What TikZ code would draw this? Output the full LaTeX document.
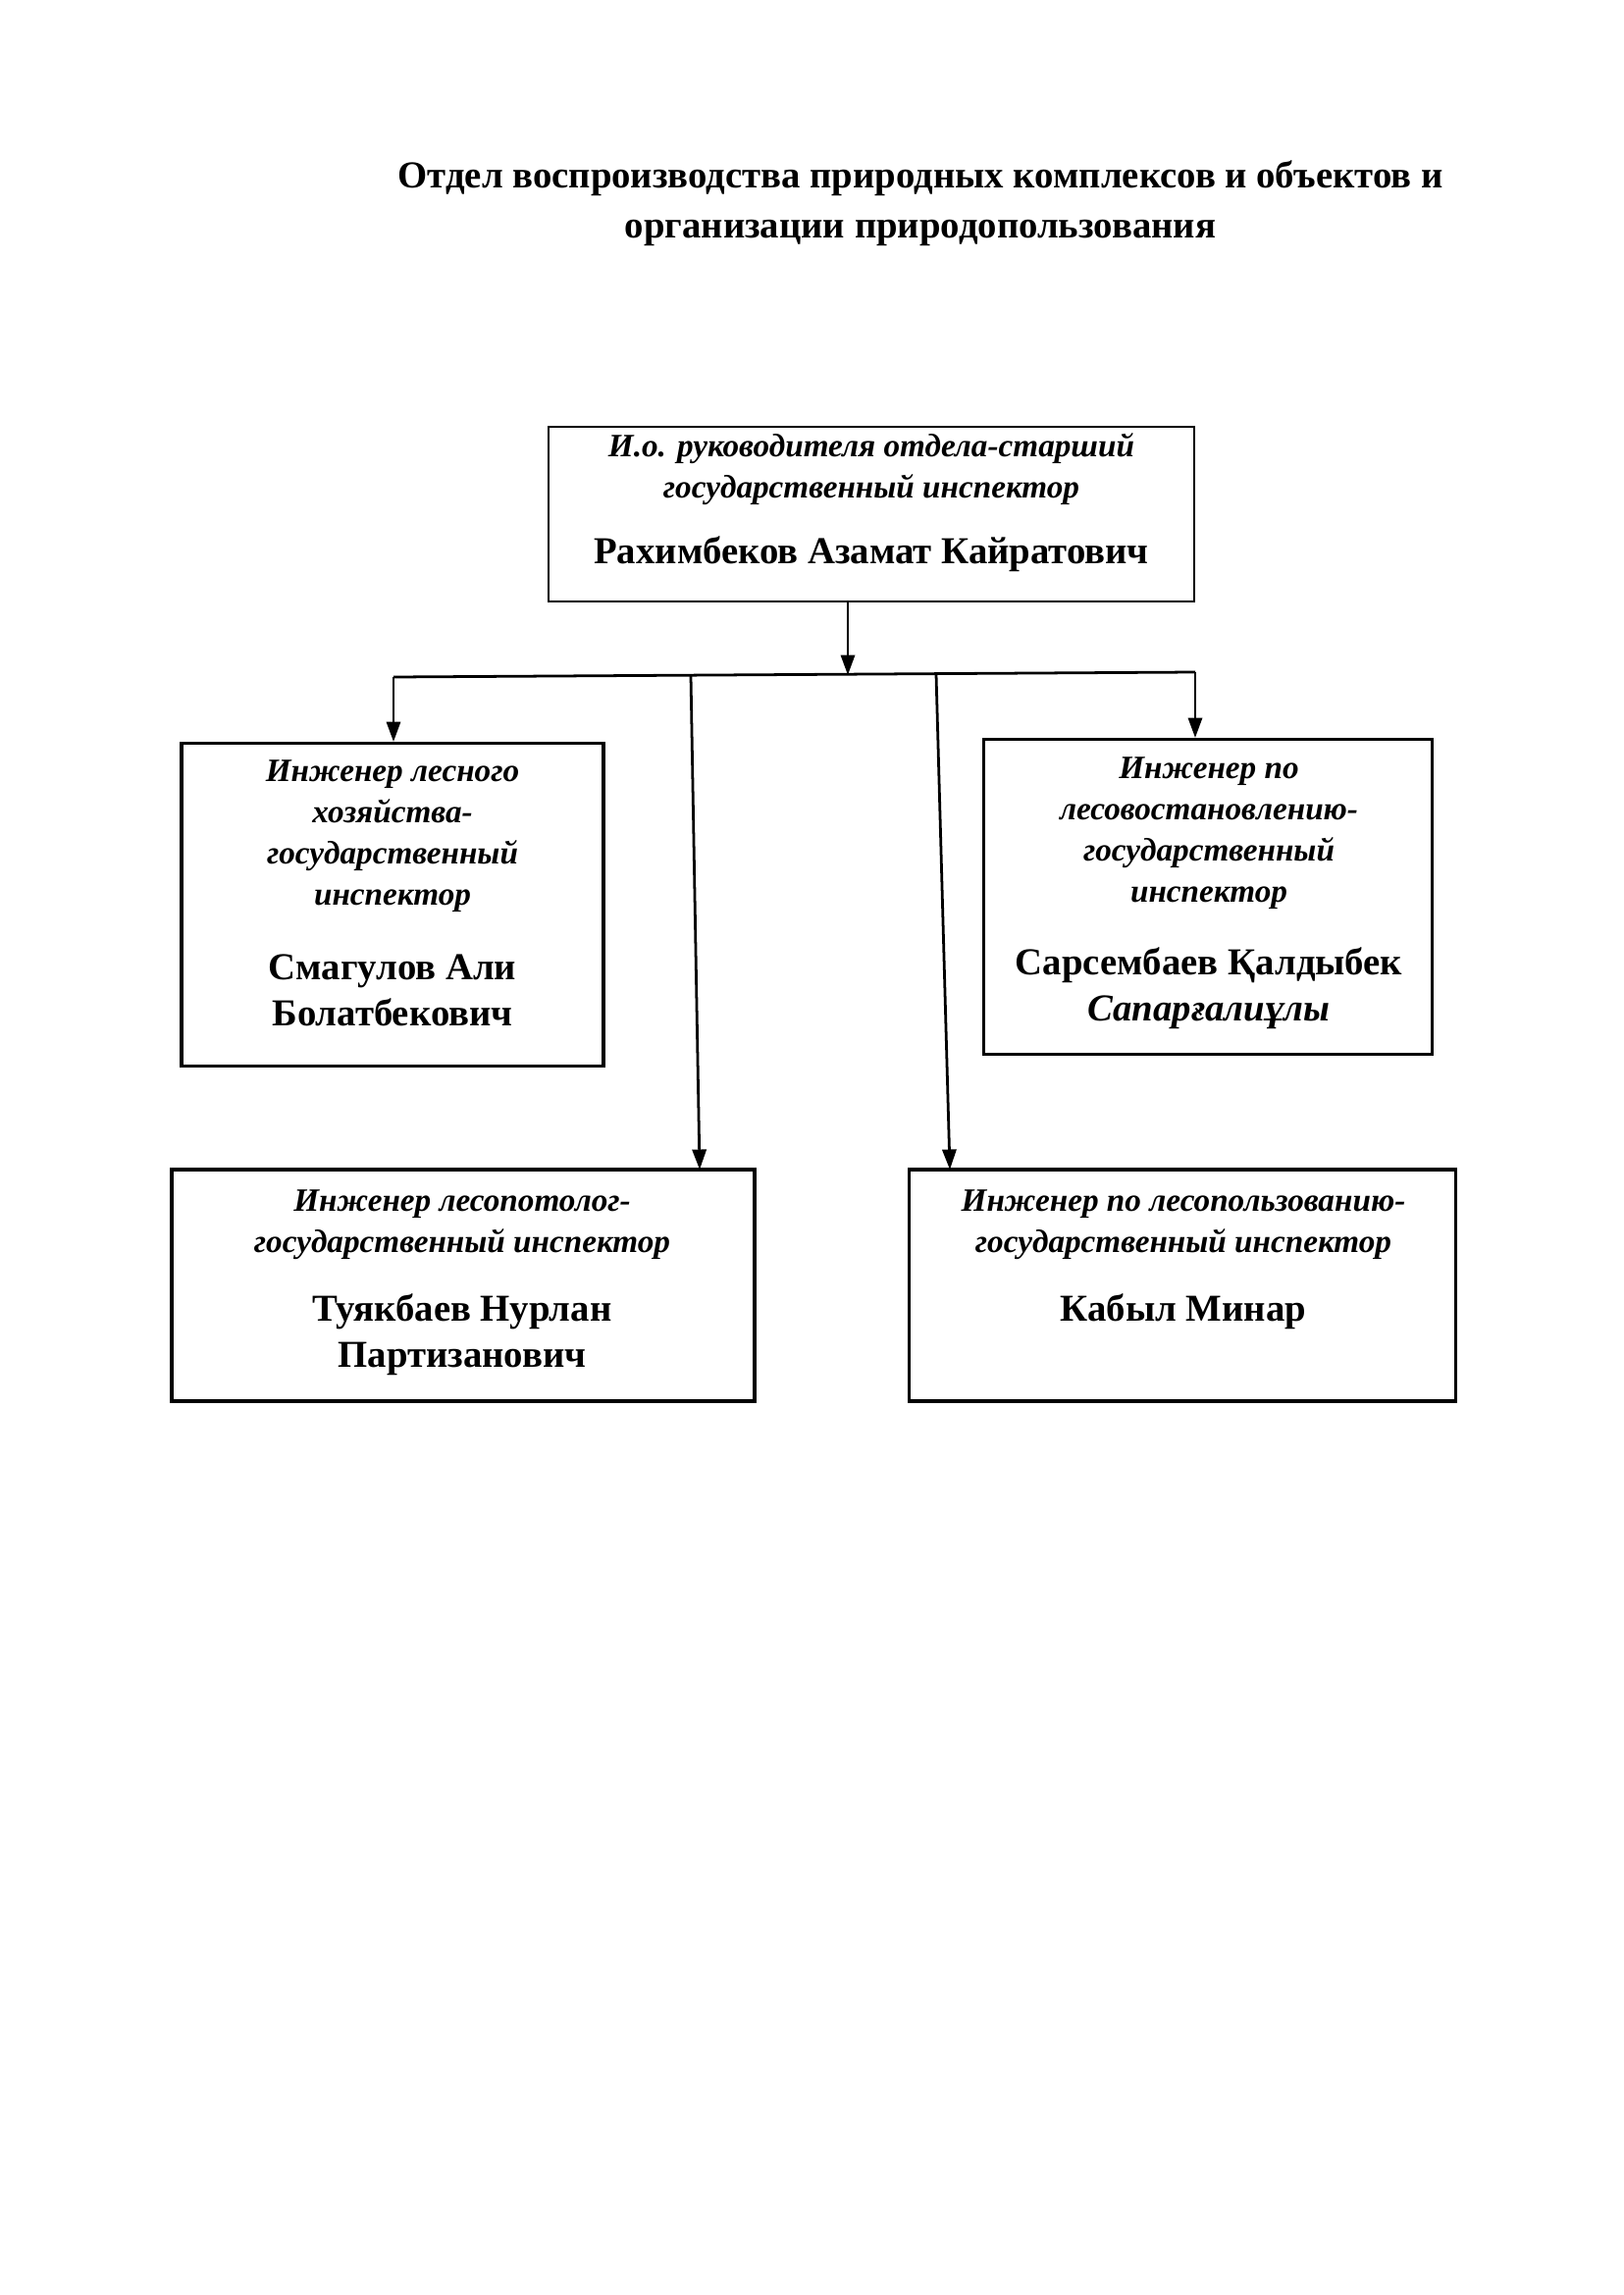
\documentclass[tikz,border=0pt]{standalone}
\usepackage{fontspec}
\setmainfont{Liberation Serif}
\usetikzlibrary{arrows.meta}
\begin{document}
\begin{tikzpicture}[x=0.12697mm,y=-0.12697mm,
  boxshape/.style={draw,line width=1.1pt,rectangle,inner sep=0pt},
  bw/.style={minimum width=#1*0.12697mm},
  bh/.style={minimum height=#1*0.12697mm},
  roletext/.style={font=\fontsize{12}{15.1}\selectfont\bfseries\itshape,align=center,inner sep=0pt},
  nametext/.style={font=\fontsize{14}{17}\selectfont\bfseries,align=center,inner sep=0pt},
  conn/.style={line width=1pt},
  arr/.style={conn,-{Triangle[length=2.6mm,width=1.8mm]}}]
\useasboundingbox (0,0) rectangle (1654,2339);
% title
\node[font=\fontsize{14}{18.4}\selectfont\bfseries,align=center,inner sep=0pt] (title) at (938,207)
  {Отдел воспроизводства природных комплексов и объектов и\\организации природопользования};
% boxes
\node[boxshape,line width=0.8pt,bw=658,bh=178] (top) at (888,524) {};
\node[boxshape,bw=430,bh=329] (lbox) at (400,922) {};
\node[boxshape,bw=457,bh=321] (rbox) at (1231,914) {};
\node[boxshape,bw=594,bh=236] (blbox) at (472,1310) {};
\node[boxshape,bw=557,bh=236] (brbox) at (1205,1310) {};
% texts
\node[roletext] (toprole) at (888,478) {И.о. руководителя отдела-старший\\государственный инспектор};
\node[nametext] (topname) at (888,565) {Рахимбеков Азамат Кайратович};
\node[roletext] (lrole) at (400,852) {Инженер лесного\\хозяйства-\\государственный\\инспектор};
\node[nametext] (lname) at (400,1009) {Смагулов Али\\Болатбекович};
\node[roletext] (rrole) at (1232,849) {Инженер по\\лесовостановлению-\\государственный\\инспектор};
\node[nametext,text depth=0pt] (rname) at (1232,1003) {Сарсембаев Қалдыбек\\\itshape Сапарғалиұлы};
\node[roletext] (blrole) at (471,1248) {Инженер лесопотолог-\\государственный инспектор};
\node[nametext] (blname) at (471,1360) {Туякбаев Нурлан\\Партизанович};
\node[roletext] (brrole) at (1206,1248) {Инженер по лесопользованию-\\государственный инспектор};
\node[nametext] (brname) at (1206,1337) {Кабыл Минар};
% junction coordinates
\coordinate (j) at (864,688);
\coordinate (hl) at (401,690);
\coordinate (hr) at (1218,685);
\coordinate (s1) at (704,689);
\coordinate (s2) at (954,687);
\coordinate (e1) at (713,1192);
\coordinate (e2) at (968,1192);
% connectors
\draw[arr] (top.south -| j) -- (j);
\draw[conn] (hl) -- (hr);
\draw[arr] (hl) -- (lbox.north -| hl);
\draw[arr] (hr) -- (rbox.north -| hr);
\draw[arr] (s1) -- (e1);
\draw[arr] (s2) -- (e2);
\end{tikzpicture}
\end{document}
